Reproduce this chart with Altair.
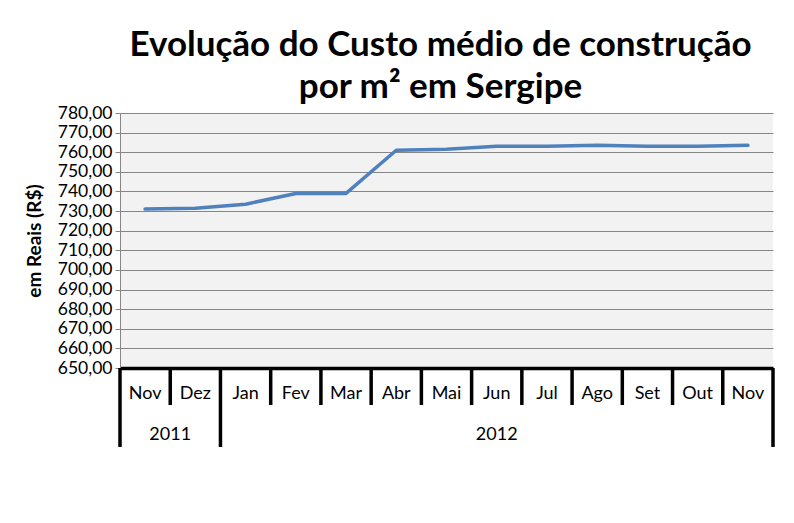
import altair as alt
import pandas as pd

months = ["Nov", "Dez", "Jan", "Fev", "Mar", "Abr", "Mai", "Jun", "Jul", "Ago", "Set", "Out", "Nov"]
years = ["2011", "2011", "2012", "2012", "2012", "2012", "2012", "2012", "2012", "2012", "2012", "2012", "2012"]
values = [731.0, 731.5, 733.5, 739.0, 739.0, 761.0, 761.5, 763.0, 763.0, 763.5, 763.0, 763.0, 763.5]
y_ticks = [650, 660, 670, 680, 690, 700, 710, 720, 730, 740, 750, 760, 770, 780]
title_lines = ["Evolução do Custo médio de construção", "por m² em Sergipe"]
y_title = "em Reais (R$)"

keys = [f"{m} {y}" for m, y in zip(months, years)]
df = pd.DataFrame({"key": keys, "month": months, "year": years, "value": values})

FONT = "Lato"
xscale = alt.Scale(type="band", domain=keys, paddingInner=0, paddingOuter=0)
yscale = alt.Scale(domain=[650, 780], nice=False, zero=False)

line = alt.Chart(df).mark_line(color="#4F81BD", strokeWidth=3.5, strokeJoin="round", strokeCap="round").encode(
    x=alt.X("key:N", bandPosition=0.5, scale=xscale, sort=keys,
            axis=alt.Axis(title=None, labelExpr="split(datum.label, ' ')[0]", ticks=False,
                          domain=True, domainColor="black", domainWidth=3.5,
                          labelFontSize=18, labelFont=FONT, labelColor="black",
                          labelPadding=25, labelBaseline="middle", labelAngle=0)),
    y=alt.Y("value:Q", scale=yscale,
            axis=alt.Axis(values=y_ticks, labelExpr="replace(format(datum.value, '.2f'), '.', ',')",
                          grid=True, gridColor="#868686", gridWidth=1,
                          domainColor="#868686", tickColor="#868686", tickSize=5,
                          labelFontSize=17.5, labelFont=FONT, labelColor="black", labelPadding=3,
                          title=y_title, titleFontSize=19, titleFont=FONT, titleFontWeight="bold",
                          titleColor="black", titleX=-76)),
)

short_keys = [k for i, k in enumerate(keys) if i not in (0, 2)]
long_keys = [keys[0], keys[2]]
short_df = pd.DataFrame({"key": short_keys})
long_df = pd.DataFrame({"key": long_keys})
end_df = pd.DataFrame({"key": [keys[-1]]})

short_sep = alt.Chart(short_df).mark_rule(color="black", strokeWidth=3.5).encode(
    x=alt.X("key:N", bandPosition=0, scale=xscale, sort=keys, title=None),
    y=alt.value(255), y2=alt.value(292))
long_sep = alt.Chart(long_df).mark_rule(color="black", strokeWidth=3.5).encode(
    x=alt.X("key:N", bandPosition=0, scale=xscale, sort=keys, title=None),
    y=alt.value(255), y2=alt.value(334))
end_sep = alt.Chart(end_df).mark_rule(color="black", strokeWidth=3.5).encode(
    x=alt.X("key:N", bandPosition=1, scale=xscale, sort=keys, title=None),
    y=alt.value(255), y2=alt.value(334))

y2011 = alt.Chart(pd.DataFrame({"key": [keys[1]], "label": [years[0]]})).mark_text(
    fontSize=18, font=FONT, color="black", baseline="middle").encode(
    x=alt.X("key:N", bandPosition=0, scale=xscale, sort=keys, title=None),
    y=alt.value(322), text="label:N")
y2012 = alt.Chart(pd.DataFrame({"key": [keys[7]], "label": [years[7]]})).mark_text(
    fontSize=18, font=FONT, color="black", baseline="middle").encode(
    x=alt.X("key:N", bandPosition=0.5, scale=xscale, sort=keys, title=None),
    y=alt.value(322), text="label:N")

chart = alt.layer(line, short_sep, long_sep, end_sep, y2011, y2012).properties(
    width=653, height=255,
    autosize="none",
    padding={"left": 112, "top": 105, "right": 10, "bottom": 140},
    background="white",
    title=alt.TitleParams(title_lines, font=FONT, fontSize=35, fontWeight="bold",
                          color="black", lineHeight=42, anchor="middle", offset=2, dx=-6, dy=3),
).configure_view(fill="#F2F2F2", strokeWidth=0)

chart.save("out.html", embed_options={"renderer": "svg", "actions": False})
